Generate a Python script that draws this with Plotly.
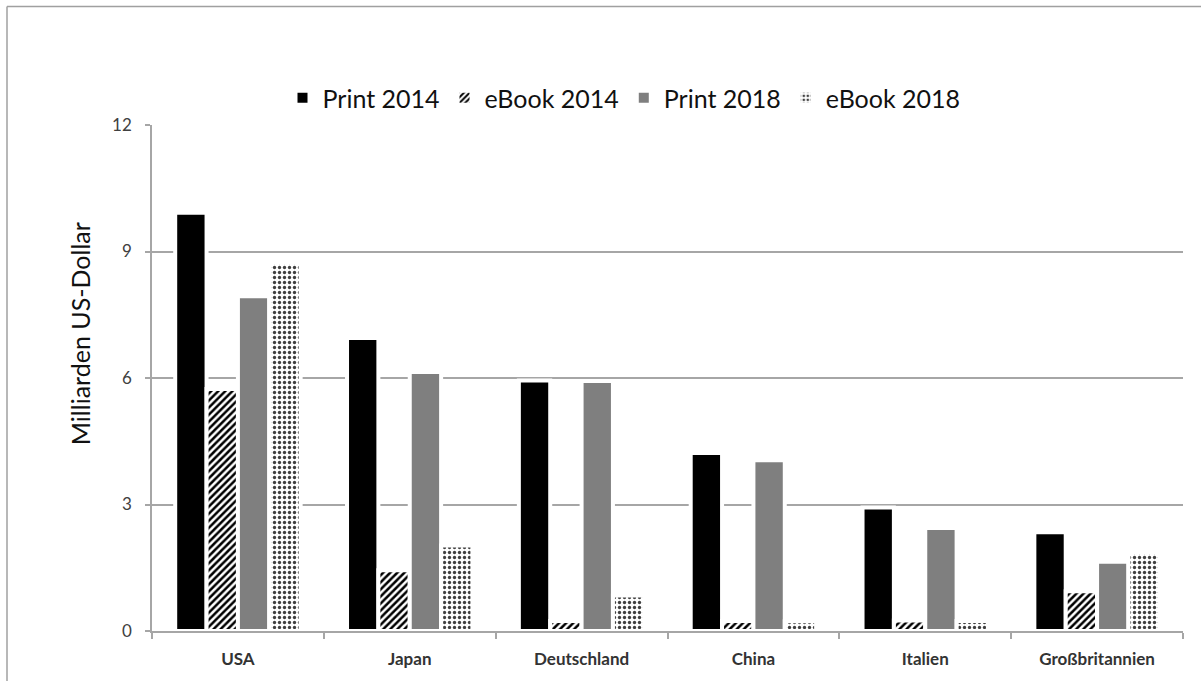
import plotly.graph_objects as go

countries = ["USA", "Japan", "Deutschland", "China", "Italien", "Großbritannien"]
print_2014 = [9.92, 6.95, 5.94, 4.22, 2.93, 2.34]
ebook_2014 = [5.74, 1.44, 0.24, 0.24, 0.25, 0.94]
print_2018 = [7.94, 6.14, 5.93, 4.05, 2.44, 1.64]
ebook_2018 = [8.74, 2.03, 0.84, 0.23, 0.24, 1.87]
y_ticks = [0, 3, 6, 9, 12]

FONT = "Lato"
GRID = "#a6a6a6"
W, H = 1201, 681
ML, MR, MT, MB = 152, 18, 125, 48
PW, PH = W - ML - MR, H - MT - MB

fig = go.Figure()
white_line = dict(color="white", width=4)
fig.add_trace(go.Bar(name="Print 2014", x=countries, y=print_2014,
                     marker=dict(color="black", line=white_line)))
fig.add_trace(go.Bar(name="eBook 2014", x=countries, y=ebook_2014,
                     marker=dict(color="white", line=white_line,
                                 pattern=dict(shape="/", fgcolor="black", bgcolor="white",
                                              size=5, solidity=0.5, fillmode="replace"))))
fig.add_trace(go.Bar(name="Print 2018", x=countries, y=print_2018,
                     marker=dict(color="#7f7f7f", line=white_line)))
fig.add_trace(go.Bar(name="eBook 2018", x=countries, y=ebook_2018,
                     marker=dict(color="white", line=white_line,
                                 pattern=dict(shape=".", fgcolor="#404040", bgcolor="white",
                                              size=5, solidity=0.35, fillmode="replace"))))

def px_x(x):
    return (x - ML) / PW

def px_y(y):
    return (H - MB - y) / PH

shapes = [
    dict(type="line", xref="paper", yref="paper", x0=px_x(7), x1=px_x(7),
         y0=px_y(H + 5), y1=px_y(6), line=dict(color="#a0a0a0", width=1.5)),
    dict(type="line", xref="paper", yref="paper", x0=px_x(7), x1=px_x(W + 5),
         y0=px_y(6), y1=px_y(6), line=dict(color="#a0a0a0", width=1.5)),
]

annotations = [
    dict(text="Milliarden US-Dollar", xref="paper", yref="paper", x=px_x(80), y=px_y(335),
         xanchor="center", yanchor="middle", textangle=-90, showarrow=False,
         font=dict(family=FONT, size=25, color="#111111")),
]

fig.update_layout(
    width=W, height=H,
    margin=dict(l=ML, r=MR, t=MT, b=MB, pad=0),
    paper_bgcolor="white", plot_bgcolor="white",
    barmode="group", bargap=0.27, bargroupgap=0.0,
    font=dict(family=FONT, color="#222222"),
    shapes=shapes,
    annotations=annotations,
    legend=dict(orientation="h", x=px_x(624), xanchor="center", y=px_y(98), yanchor="middle",
                font=dict(family=FONT, size=25, color="#111111"),
                itemsizing="constant", traceorder="normal", bgcolor="rgba(0,0,0,0)"),
    xaxis=dict(showline=True, linecolor=GRID, linewidth=1.5,
               ticks="outside", tickson="boundaries", ticklen=6, tickcolor=GRID, tickwidth=1.5,
               ticklabelstandoff=12,
               tickfont=dict(family=FONT, size=17, color="#333333", weight="bold"),
               showgrid=False),
    yaxis=dict(range=[0, 12], tickvals=y_ticks, showline=True, linecolor=GRID, linewidth=1.5,
               ticks="outside", ticklen=5, tickcolor=GRID, tickwidth=1.5,
               ticklabelstandoff=10,
               showgrid=True, gridcolor=GRID, gridwidth=1.5, zeroline=False,
               tickfont=dict(family=FONT, size=17, color="#404040")),
)

fig.write_html("out.html")
